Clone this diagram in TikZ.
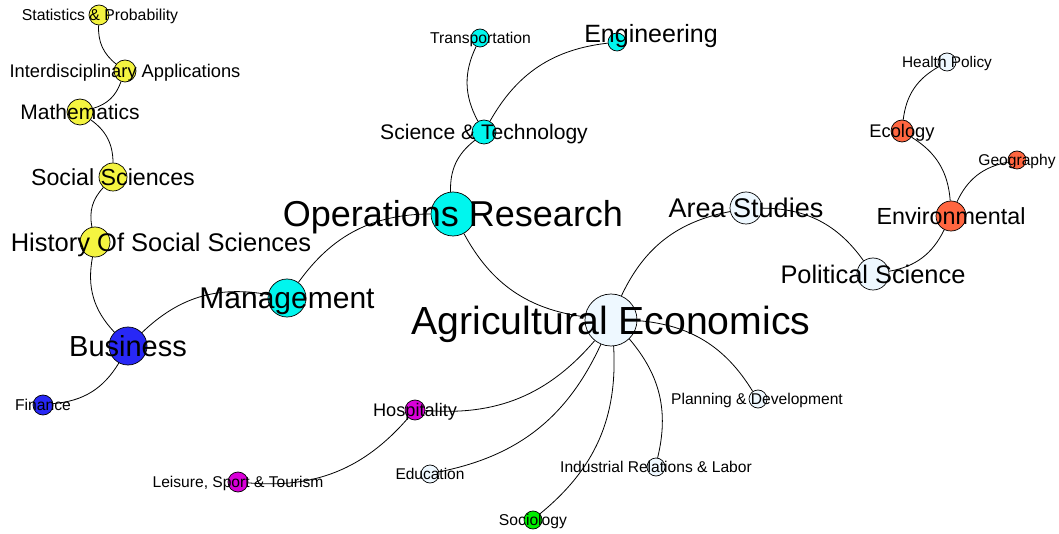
\documentclass[tikz,border=0pt]{standalone}
\usepackage{fontspec}
\setmainfont{Liberation Sans}
\definecolor{cyel}{HTML}{F4F440}
\definecolor{ccyan}{HTML}{00F6EE}
\definecolor{cblue}{HTML}{2828F6}
\definecolor{clight}{HTML}{EEF8FF}
\definecolor{corange}{HTML}{FF6640}
\definecolor{cmag}{HTML}{D800D8}
\definecolor{cgreen}{HTML}{00EE00}
\tikzset{
  gnode/.style={circle, draw=black, line width=0.7pt, inner sep=0pt},
  glabel/.style={inner sep=0pt, anchor=base, text=black},
  edge/.style={draw=black, line width=0.8pt},
  bnd/.style={bend right=27},
}
\newcommand\fsz[1]{\fontsize{#1}{#1}\selectfont}
\usetikzlibrary{calc}
\begin{document}
\begin{tikzpicture}[x=1pt,y=-1pt]
\useasboundingbox[fill=white] (0,0) rectangle (1059,534);
% nodes
\node[gnode, fill=cyel, minimum size=20pt] (stat) at (99,15) {};
\node[gnode, fill=cyel, minimum size=22pt] (inter) at (125,71) {};
\node[gnode, fill=cyel, minimum size=26pt] (math) at (80,112) {};
\node[gnode, fill=cyel, minimum size=28pt] (soc) at (113,177) {};
\node[gnode, fill=cyel, minimum size=30pt] (hist) at (95,242) {};
\node[gnode, fill=cblue, minimum size=38pt] (bus) at (128,346) {};
\node[gnode, fill=cblue, minimum size=20pt] (fin) at (43,405) {};
\node[gnode, fill=ccyan, minimum size=38pt] (mgmt) at (287,298) {};
\node[gnode, fill=ccyan, minimum size=44pt] (or) at (453,214) {};
\node[gnode, fill=ccyan, minimum size=24pt] (sci) at (484,132) {};
\node[gnode, fill=ccyan, minimum size=18pt] (trans) at (480,38) {};
\node[gnode, fill=ccyan, minimum size=18pt] (eng) at (617,42) {};
\node[gnode, fill=clight, minimum size=52pt] (agr) at (611,320) {};
\node[gnode, fill=clight, minimum size=32pt] (area) at (746,208) {};
\node[gnode, fill=clight, minimum size=32pt] (pol) at (873,274) {};
\node[gnode, fill=corange, minimum size=30pt] (env) at (951,216) {};
\node[gnode, fill=corange, minimum size=22pt] (eco) at (902,131) {};
\node[gnode, fill=clight, minimum size=18pt] (health) at (947,62) {};
\node[gnode, fill=corange, minimum size=18pt] (geo) at (1017,160) {};
\node[gnode, fill=clight, minimum size=18pt] (plan) at (758,399) {};
\node[gnode, fill=clight, minimum size=18pt] (ind) at (656,467) {};
\node[gnode, fill=cgreen, minimum size=18pt] (socio) at (533,520) {};
\node[gnode, fill=clight, minimum size=18pt] (edu) at (430,474) {};
\node[gnode, fill=cmag, minimum size=20pt] (hosp) at (415,410) {};
\node[gnode, fill=cmag, minimum size=20pt] (leis) at (238,482) {};
% edges
\path[edge] (stat) to[bnd] (inter);
\path[edge] (math) to[bnd] (inter);
\path[edge] (soc) to[bnd] (math);
\path[edge] (soc) to[bnd] (hist);
\path[edge] (hist) to[bnd] (bus);
\path[edge] (fin) to[bnd] (bus);
\path[edge] (mgmt) to[bnd] (bus);
\path[edge] (or) to[bnd] (mgmt);
\path[edge] (sci) to[bnd] (or);
\path[edge] (trans) to[bnd] (sci);
\path[edge] (eng) to[bnd] (sci);
\path[edge] (or) to[bnd] (agr);
\path[edge] (area) to[bnd] (agr);
\path[edge] (pol) to[bnd] (area);
\path[edge] (pol) to[bnd] (env);
\path[edge] (env) to[bnd] (eco);
\path[edge] (health) to[bnd] (eco);
\path[edge] (geo) to[bnd] (env);
\path[edge] (plan) to[bnd] (agr);
\path[edge] (ind) to[bnd] (agr);
\path[edge] (socio) to[bnd] (agr);
\path[edge] (edu) to[bnd] (agr);
\path[edge] (hosp) to[bnd] (agr);
\path[edge] (leis) to[bnd] (hosp);
% labels
\node[glabel, font=\fsz{15.8}] (stat-l) at ($(stat)+(1,5.7)$) {Statistics \& Probability};
\node[glabel, font=\fsz{18.3}] (inter-l) at ($(inter)+(0,6.6)$) {Interdisciplinary Applications};
\node[glabel, font=\fsz{21}] (math-l) at ($(math)+(0,7.6)$) {Mathematics};
\node[glabel, font=\fsz{23.2}] (soc-l) at ($(soc)+(0,8.4)$) {Social Sciences};
\node[glabel, font=\fsz{25.5}] (hist-l) at ($(hist)+(66,9.2)$) {History Of Social Sciences};
\node[glabel, font=\fsz{29}] (bus-l) at ($(bus)+(0,10.4)$) {Business};
\node[glabel, font=\fsz{15.7}] (fin-l) at ($(fin)+(0,5.6)$) {Finance};
\node[glabel, font=\fsz{30}] (mgmt-l) at ($(mgmt)+(0,10.8)$) {Management};
\node[glabel, font=\fsz{36}] (or-l) at ($(or)+(0,13)$) {Operations Research};
\node[glabel, font=\fsz{21.1}] (sci-l) at ($(sci)+(0,7.6)$) {Science \& Technology};
\node[glabel, font=\fsz{15.7}] (trans-l) at ($(trans)+(0.5,5.6)$) {Transportation};
\node[glabel, font=\fsz{25}] (eng-l) at ($(eng)+(34,1)$) {Engineering};
\node[glabel, font=\fsz{39.2}] (agr-l) at ($(agr)+(0,14.1)$) {Agricultural Economics};
\node[glabel, font=\fsz{27}] (area-l) at ($(area)+(0,9.7)$) {Area Studies};
\node[glabel, font=\fsz{25.4}] (pol-l) at ($(pol)+(0,9.1)$) {Political Science};
\node[glabel, font=\fsz{23.3}] (env-l) at ($(env)+(0,8.4)$) {Environmental};
\node[glabel, font=\fsz{18.3}] (eco-l) at ($(eco)+(0,6.6)$) {Ecology};
\node[glabel, font=\fsz{15.4}] (health-l) at ($(health)+(0,5.5)$) {Health Policy};
\node[glabel, font=\fsz{15.6}] (geo-l) at ($(geo)+(0,5.6)$) {Geography};
\node[glabel, font=\fsz{15.6}] (plan-l) at ($(plan)+(-1,5.6)$) {Planning \& Development};
\node[glabel, font=\fsz{15.6}] (ind-l) at ($(ind)+(0,5.6)$) {Industrial Relations \& Labor};
\node[glabel, font=\fsz{15.7}] (socio-l) at ($(socio)+(0,5.6)$) {Sociology};
\node[glabel, font=\fsz{15.5}] (edu-l) at ($(edu)+(0,5.6)$) {Education};
\node[glabel, font=\fsz{18.2}] (hosp-l) at ($(hosp)+(0,6.5)$) {Hospitality};
\node[glabel, font=\fsz{15.6}] (leis-l) at ($(leis)+(0,5.6)$) {Leisure, Sport \& Tourism};
\end{tikzpicture}
\end{document}
